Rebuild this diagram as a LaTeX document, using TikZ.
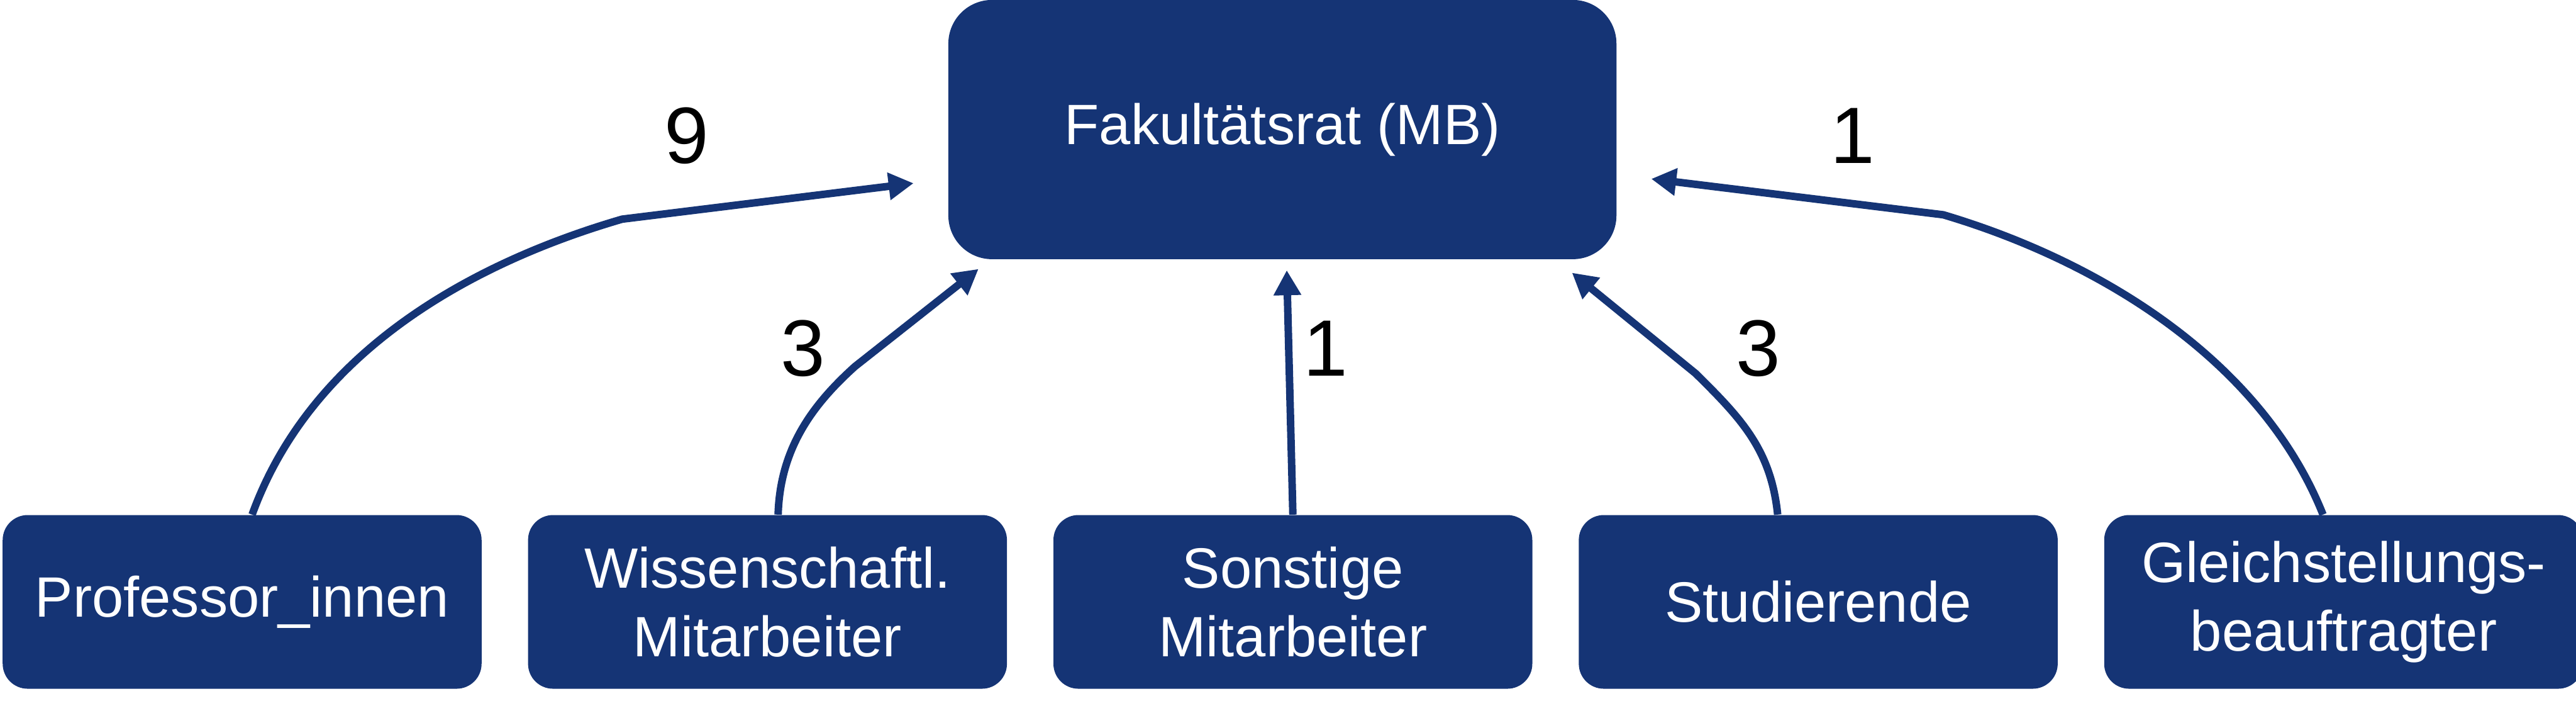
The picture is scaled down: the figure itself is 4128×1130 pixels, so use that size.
\documentclass[tikz,border=0pt]{standalone}
\usepackage{fontspec}
\setmainfont{Liberation Sans}
\usepackage{xcolor}
\usepackage{tikz}
\usetikzlibrary{arrows.meta,positioning,calc}

\definecolor{unibl}{RGB}{21,52,117}
\newcommand{\boxfont}{\fontsize{25.9}{31.3}\selectfont}
\newcommand{\countfont}{\fontsize{36.4}{40}\selectfont}

\begin{document}
\begin{tikzpicture}[x=0.01cm, y=-0.01cm]
        \tikzstyle{block} = [rectangle, fill=unibl, text=white, align=center, inner sep=0pt, minimum width=7.67cm, minimum height=2.78cm, rounded corners=0.4cm, font=\boxfont]
        \tikzstyle{council} = [block, minimum width=10.7cm, minimum height=4.15cm, rounded corners=0.7cm]
        \tikzstyle{line} = [draw=unibl, line width=0.12cm, -{Triangle[length=0.4cm, width=0.42cm]}]
        \tikzstyle{count} = [text=black, inner sep=0pt, font=\countfont]

        \useasboundingbox (0,0) rectangle (4128,1130);

        \node [council] (fak) at (2055,207.5) {Fakultätsrat (MB)};
        \node [block] (prof) at (388,964) {Professor\_innen};
        \node [block, right=0.73cm of prof] (wiss) {Wissenschaftl.\\Mitarbeiter};
        \node [block, right=0.73cm of wiss] (sonst) {Sonstige\\Mitarbeiter};
        \node [block, right=0.73cm of sonst] (stud) {Studierende};
        \node [block, right=0.73cm of stud] (gleich) {Gleichstellungs-\\beauftragter};

        % kinks of the curved connectors
        \coordinate (kprof) at (997,351);
        \coordinate (kwiss) at (1370,587);
        \coordinate (kstud) at (2717,598);
        \coordinate (kgleich) at (3114,344);

        \path [line] ([xshift=0.16cm]prof.north) .. controls (500,560) and (760,420) .. (kprof) -- ($(fak.west)+(-55,86)$);
        \path [line] ([xshift=0.17cm]wiss.north) .. controls (1250,720) and (1300,650) .. (kwiss) -- ($(fak.south west)+(49,15)$);
        \path [line] (sonst.north) -- ($(fak.south)+(7,17)$);
        \path [line] ([xshift=-0.65cm]stud.north) .. controls (2838,720) and (2790,670) .. (kstud) -- ($(fak.south east)+(-72,21)$);
        \path [line] ([xshift=-0.33cm]gleich.north) .. controls (3625,580) and (3370,420) .. (kgleich) -- ($(fak.east)+(55,79)$);

        \node [count] (c9) at (1100,217) {9};
        \node [count] (c3a) at (1287,558) {3};
        \node [count] (c1a) at (2124,558) {1};
        \node [count] (c3b) at (2818,558) {3};
        \node [count] (c1b) at (2969,217) {1};
\end{tikzpicture}
\end{document}
